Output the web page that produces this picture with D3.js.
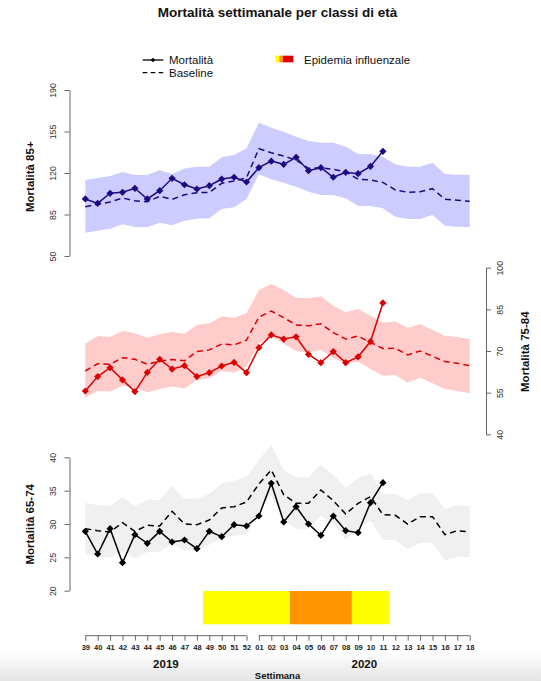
<!DOCTYPE html>
<html><head><meta charset="utf-8">
<script src="https://cdn.jsdelivr.net/npm/d3@7"></script>
<style>
body{margin:0;background:#fff;}
svg{display:block;font-family:"Liberation Sans",Arial,Helvetica,sans-serif;}
</style></head>
<body><svg id="c" width="541" height="681"></svg>
<script>
const weeks = ["39","40","41","42","43","44","45","46","47","48","49","50","51","52","01","02","03","04","05","06","07","08","09","10","11","12","13","14","15","16","17","18"];
const weeks2019 = ["39","40","41","42","43","44","45","46","47","48","49","50","51","52"];
const weeks2020 = ["01","02","03","04","05","06","07","08","09","10","11","12","13","14","15","16","17","18"];

// 85+
const mort85  = [98.1,94.4,102.9,103.7,107.1,98.1,105.1,115.5,110.1,106.5,109.3,114.9,116.4,112.4,124.5,130.0,127.3,133.2,121.9,124.5,116.4,120.6,119.4,125.6,138.3];
const base85  = [91.6,93.6,95.5,98.9,96.6,95.8,100.3,97.8,101.7,103.4,103.7,111.3,113.2,116.0,140.5,137.1,134.3,130.9,123.9,124.5,123.1,121.1,114.7,114.1,112.1,105.7,103.7,104.2,106.8,97.8,97.0,96.1];
const upper85 = [114.1,115.8,117.5,120.8,118.3,118.3,122.5,119.2,123.9,125.3,125.3,133.2,135.2,140.8,162.4,158.2,154.8,150.6,147.0,145.6,145.6,142.2,136.0,135.8,133.8,127.3,125.3,125.3,128.7,119.2,118.6,118.3];
const lower85 = [69.7,71.4,73.0,76.7,74.5,74.2,78.1,75.9,79.8,81.5,81.8,89.6,91.1,98.1,118.9,114.7,111.8,108.5,104.2,101.5,101.5,98.7,92.2,92.2,90.2,83.2,81.2,81.2,84.6,75.6,74.7,74.2];
const ticks85 = [50,85,120,155,190];

// 75-84
const mort75  = [55.6,60.8,64.0,59.6,55.4,62.3,67.0,63.5,64.7,60.8,62.2,64.6,65.9,62.2,71.2,75.8,74.3,75.1,68.8,65.8,69.8,65.8,67.9,73.4,87.3];
const base75  = [62.8,65.4,65.2,67.6,67.0,65.2,66.4,66.9,66.5,69.8,70.4,72.5,72.2,73.9,82.2,84.4,82.0,79.4,79.1,79.8,76.6,74.3,75.4,73.1,70.9,71.0,68.6,70.0,68.1,66.2,65.6,64.7];
const upper75 = [72.6,75.4,75.0,77.3,76.4,74.8,76.0,76.8,76.2,79.4,80.0,82.4,82.0,83.6,92.0,94.1,92.0,89.2,89.0,89.6,86.3,84.0,85.1,82.7,80.3,80.6,78.4,79.7,77.6,75.5,75.0,74.3];
const lower75 = [53.2,55.6,55.4,57.5,56.8,55.1,56.3,57.2,56.6,59.6,60.2,62.8,62.3,64.3,72.8,75.2,72.6,70.0,69.5,70.4,67.6,65.2,66.2,63.5,61.1,61.4,58.7,60.4,58.4,56.3,55.6,54.8];
const ticks75 = [40,55,70,85,100];

// 65-74
const mort65  = [28.9,25.5,29.3,24.2,28.4,27.1,28.9,27.3,27.6,26.3,28.9,28.1,29.9,29.7,31.2,36.1,30.3,32.6,30.0,28.3,31.2,29.0,28.7,33.2,36.2];
const base65  = [29.3,29.0,28.8,30.2,28.9,29.8,29.7,31.9,30.0,29.9,30.6,32.4,32.6,33.3,36.0,38.1,34.4,33.1,33.1,35.1,33.5,31.5,33.1,34.1,31.4,31.3,30.0,31.1,31.1,28.4,29.0,28.8];
const upper65 = [33.2,32.8,32.7,34.1,32.7,33.6,33.6,35.7,33.8,33.8,34.5,36.1,36.5,37.1,39.6,41.9,38.1,37.0,37.0,38.9,37.4,35.4,36.9,37.6,34.5,34.5,33.6,34.6,34.6,32.3,32.8,32.7];
const lower65 = [25.5,25.1,25.0,25.8,24.9,25.8,25.8,27.1,26.0,26.0,26.9,27.9,28.2,28.5,32.0,34.3,30.6,29.3,29.3,31.2,30.0,27.6,29.4,30.5,27.6,27.6,26.2,27.2,27.2,24.5,25.1,25.0];
const ticks65 = [20,25,30,35,40];

// influenza epidemic (1 = yellow, 2 = orange)
const epiWeeks = ["49","50","51","52","01","02","03","04","05","06","07","08","09","10","11"];
const epiLevel = [1,1,1,1,1,1,1,2,2,2,2,2,1,1,1];
const epiColors = {1:"#ffff00", 2:"#ff9400"};

const svg = d3.select("#c");

// bottom light gradient (screenshot shading)
const defs = svg.append("defs");
const g0 = defs.append("linearGradient").attr("id","bg").attr("x1",0).attr("y1",0).attr("x2",0).attr("y2",1);
g0.append("stop").attr("offset","0%").attr("stop-color","#ffffff");
g0.append("stop").attr("offset","100%").attr("stop-color","#e4e4e4");
svg.append("rect").attr("x",0).attr("y",652).attr("width",541).attr("height",29).attr("fill","url(#bg)");

const x = d3.scalePoint().domain(weeks).range([85.3, 469.7]);
const step = x.step();

const panels = [
  {mort:mort85, base:base85, up:upper85, lo:lower85, ticks:ticks85, dom:[50,190], rng:[256,90],
   line:"#1e0a80", band:"#ccccff", side:"left", label:"Mortalità 85+", labelX:34, labelY:176.7},
  {mort:mort75, base:base75, up:upper75, lo:lower75, ticks:ticks75, dom:[40,100], rng:[434.3,267.7],
   line:"#dd0000", band:"#ffcccc", side:"right", label:"Mortalità 75-84", labelX:529, labelY:351.7},
  {mort:mort65, base:base65, up:upper65, lo:lower65, ticks:ticks65, dom:[20,40], rng:[590.7,457.3],
   line:"#000000", band:"#f0f0f0", side:"left", label:"Mortalità 65-74", labelX:34, labelY:524.3}
];

panels.forEach(p => {
  const y = d3.scaleLinear().domain(p.dom).range(p.rng);
  const g = svg.append("g");
  const area = d3.area().x((d,i)=>x(weeks[i])).y0((d,i)=>y(p.lo[i])).y1((d,i)=>y(p.up[i]));
  g.append("path").datum(p.up).attr("d", area).attr("fill", p.band);
  const ln = d3.line().x((d,i)=>x(weeks[i])).y(d=>y(d));
  g.append("path").datum(p.base).attr("d", ln).attr("fill","none")
    .attr("stroke", p.line).attr("stroke-width",1.5).attr("stroke-dasharray","6,4");
  g.append("path").datum(p.mort).attr("d", ln).attr("fill","none")
    .attr("stroke", p.line).attr("stroke-width",1.5);
  const sym = d3.symbol(d3.symbolSquare, 26);
  g.selectAll("path.pt").data(p.mort).join("path").attr("class","pt")
    .attr("d", sym)
    .attr("transform",(d,i)=>`translate(${x(weeks[i])},${y(d)}) rotate(45)`)
    .attr("fill", p.line);

  // axis
  const ax = (p.side==="left" ? d3.axisLeft(y) : d3.axisRight(y)).tickValues(p.ticks).tickSize(5).tickSizeOuter(0);
  const axX = p.side==="left" ? 69.5 : 486;
  const ag = svg.append("g").attr("transform",`translate(${axX},0)`).call(ax);
  ag.select(".domain").attr("stroke","#666").attr("stroke-width",1);
  ag.selectAll(".tick line").attr("stroke","#666");
  ag.selectAll(".tick text")
    .attr("transform","rotate(-90)")
    .attr("x",0).attr("dy",0)
    .attr("y", p.side==="left" ? -13.3 : 16.5)
    .attr("text-anchor","middle")
    .attr("font-size","8.8px").attr("fill","#333")
    .attr("font-family","Liberation Sans, Arial, sans-serif");

  svg.append("text").attr("transform",`translate(${p.labelX},${p.labelY}) rotate(-90)`)
    .attr("text-anchor","middle").attr("font-size","11.5px").attr("font-weight","bold")
    .attr("fill","#111").text(p.label);
});

// epidemic bars: merge consecutive weeks with the same level into one block
const runs = [];
epiWeeks.forEach((w,i) => {
  const last = runs[runs.length-1];
  if (last && last.level === epiLevel[i]) last.end = w;
  else runs.push({start:w, end:w, level:epiLevel[i]});
});
svg.append("g").selectAll("rect").data(runs).join("rect")
  .attr("x", d => x(d.start) - step/2)
  .attr("width", d => x(d.end) - x(d.start) + step)
  .attr("y", 591).attr("height", 33.3)
  .attr("fill", d => epiColors[d.level]);

// x axis (two segments)
[weeks2019, weeks2020].forEach(ws => {
  const ag = svg.append("g").attr("transform","translate(0,635.7)")
    .call(d3.axisBottom(x).tickValues(ws).tickSize(5).tickSizeOuter(0));
  ag.select(".domain").remove();
  ag.append("line").attr("x1", x(ws[0])).attr("x2", x(ws[ws.length-1]))
    .attr("y1",0).attr("y2",0).attr("stroke","#666");
  ag.selectAll(".tick line").attr("stroke","#666");
  ag.selectAll(".tick text").attr("y",9).attr("dy","0.71em")
    .attr("font-size","7.5px").attr("font-weight","bold").attr("fill","#222")
    .attr("font-family","Liberation Sans, Arial, sans-serif");
});
const yearLabels = ["2019","2020"];
[weeks2019, weeks2020].forEach((ws,k) => {
  svg.append("text").attr("x",(x(ws[0])+x(ws[ws.length-1]))/2).attr("y",668)
    .attr("text-anchor","middle").attr("font-size","11.5px").attr("font-weight","bold")
    .attr("fill","#111").text(yearLabels[k]);
});
svg.append("text").attr("x",277.5).attr("y",679).attr("text-anchor","middle")
  .attr("font-size","9.5px").attr("font-weight","bold").attr("fill","#111").text("Settimana");

// title
svg.append("text").attr("x",277.5).attr("y",16.5).attr("text-anchor","middle")
  .attr("font-size","13.5px").attr("font-weight","bold").attr("fill","#111")
  .text("Mortalità settimanale per classi di età");

// legend
const lg = svg.append("g").attr("font-size","11.5px").attr("fill","#111");
lg.append("line").attr("x1",142.7).attr("x2",163.3).attr("y1",60).attr("y2",60).attr("stroke","#000").attr("stroke-width",1.3);
lg.append("path").attr("d", d3.symbol(d3.symbolSquare, 10)).attr("transform","translate(153,60) rotate(45)").attr("fill","#000");
lg.append("text").attr("x",169).attr("y",64).text("Mortalità");
lg.append("line").attr("x1",142.7).attr("x2",163.3).attr("y1",72.7).attr("y2",72.7).attr("stroke","#000").attr("stroke-width",1.3).attr("stroke-dasharray","4.5,3.5");
lg.append("text").attr("x",169).attr("y",77).text("Baseline");
const legCols = ["#ffff00","#ff9400","#e00000"];
const legX = [275.7, 279.3, 283];
const legW = [3.6, 3.7, 10.3];
legCols.forEach((c,i)=>{
  lg.append("rect").attr("x",legX[i]).attr("y",55.7).attr("width",legW[i]).attr("height",6.6).attr("fill",c);
});
lg.append("text").attr("x",304).attr("y",64).text("Epidemia influenzale");
</script>
</body></html>
